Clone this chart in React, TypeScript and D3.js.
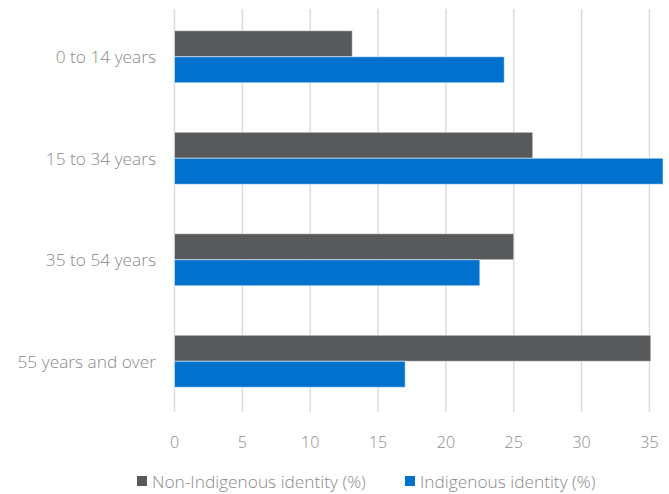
import React from "react";
import * as d3 from "d3";

const categories = ["0 to 14 years", "15 to 34 years", "35 to 54 years", "55 years and over"];
const seriesNames = ["Non-Indigenous identity (%)", "Indigenous identity (%)"];
const nonIndigenous = [13.1, 26.4, 25.0, 35.1];
const indigenous = [24.3, 36.0, 22.5, 17.0];
const xTicks = [0, 5, 10, 15, 20, 25, 30, 35];
const colors = ["#58595b", "#0072ce"];

const W = 669;
const H = 494;
const FONT = "'Open Sans', 'Noto Sans', sans-serif";
const TEXT = "#8a8a8a";

export default function App() {
  const x = d3.scaleLinear().domain([0, 36]).range([174.5, 663]);
  const y = d3.scaleBand().domain(categories).range([6, 412]).paddingInner(0).paddingOuter(0);
  const barH = 26;
  const series = [nonIndigenous, indigenous];

  return (
    <svg width={W} height={H} style={{ position: "absolute", left: 0, top: 0, background: "#fff" }} fontFamily={FONT}>
      {xTicks.map((t) => (
        <line key={"g" + t} x1={x(t)} x2={x(t)} y1={9} y2={412} stroke="#dcdcdc" strokeWidth={1.5} />
      ))}
      {categories.map((c, i) => {
        const cy = (y(c) as number) + y.bandwidth() / 2;
        return (
          <g key={c}>
            {series.map((vals, s) => (
              <rect
                key={s}
                x={x(0)}
                y={cy - barH + s * barH}
                width={x(vals[i]) - x(0)}
                height={barH}
                fill={colors[s]}
                stroke="#ffffff"
                strokeOpacity={0.5}
                strokeWidth={1}
              />
            ))}
            <text x={156} y={cy} textAnchor="end" dominantBaseline="central" fontSize={17.3} fill={TEXT} fontWeight={300}>
              {c}
            </text>
          </g>
        );
      })}
      {xTicks.map((t) => (
        <text key={"t" + t} x={x(t)} y={448} textAnchor="middle" fontSize={16} fill={TEXT} fontWeight={300}>
          {t}
        </text>
      ))}
      <g>
        <rect x={137} y={476} width={10} height={10} fill={colors[0]} />
        <text x={152} y={488} fontSize={17.3} fill={TEXT} fontWeight={300}>{seriesNames[0]}</text>
        <rect x={405} y={476} width={10} height={10} fill={colors[1]} />
        <text x={420} y={488} fontSize={17.3} fill={TEXT} fontWeight={300}>{seriesNames[1]}</text>
      </g>
    </svg>
  );
}
